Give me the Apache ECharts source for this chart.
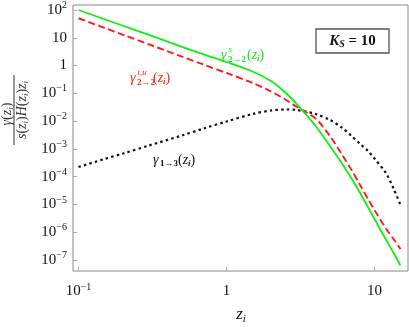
<!DOCTYPE html>
<html>
<head>
<meta charset="utf-8">
<title>rates</title>
<script src="https://cdn.jsdelivr.net/npm/echarts@6/dist/echarts.min.js"></script>
</head>
<body style="margin:0">
<div id="main" style="width:409px;height:327px"></div>
<script type="text/javascript">
// z_i sample points and the three rate curves
var zVals = [0.1, 0.15, 0.2, 0.3, 0.5, 0.7, 1, 1.5, 2, 2.5, 3, 4, 5, 6, 7, 8, 9, 10, 12, 13.5, 15];
var gammaS22 = [100, 46.3, 27.0, 12.6, 4.73, 2.54, 1.34, 0.611, 0.278, 0.1072, 0.0397, 6.67e-3, 1.272e-3, 3.11e-4, 8.6e-5, 2.58e-5, 8.38e-6, 3.00e-6, 5.26e-7, 1.76e-7, 6.35e-8];
var gammaTU22 = [50.3, 22.5, 12.8, 5.73, 2.10, 1.083, 0.540, 0.236, 0.1164, 0.060, 0.0322, 0.0124, 2.91e-3, 6.55e-4, 1.74e-4, 5.0e-5, 1.64e-5, 6.32e-6, 1.31e-6, 5.57e-7, 2.49e-7];
var gamma13 = [2.23e-4, 4.33e-4, 6.83e-4, 1.33e-3, 3.04e-3, 5.42e-3, 9.69e-3, 0.0180, 0.0241, 0.0262, 0.0251, 0.0180, 0.0110, 5.89e-3, 2.91e-3, 1.50e-3, 8.61e-4, 4.51e-4, 1.30e-4, 3.60e-5, 9.56e-6];

var SERIF = 'Liberation Serif';

function pairs(ys) {
    var out = [];
    for (var i = 0; i < zVals.length; i++) out.push([zVals[i], ys[i]]);
    return out;
}

// 10^n style tick labels
function logLabel(v) {
    var n = Math.log10(v), r = Math.round(n);
    if (Math.abs(n - r) > 1e-6) return '';
    if (r === 0) return '{b|1}';
    if (r === 1) return '{b|10}';
    return '{b|10}{s|' + (r < 0 ? '\u2212' : '') + Math.abs(r) + '}';
}
var tickRich = {
    b: {fontFamily: SERIF, fontSize: 15, color: '#111', lineHeight: 19},
    s: {fontFamily: SERIF, fontSize: 10, color: '#111', lineHeight: 10, padding: [0, 0, 9, 0]}
};

function txt(x, y, text, size, fill, extra) {
    var st = {text: text, fontFamily: SERIF, fontSize: size, fill: fill, align: 'left', verticalAlign: 'middle'};
    for (var k in extra || {}) st[k] = extra[k];
    return {type: 'text', x: x, y: y, silent: true, style: st};
}
// "(z_i)"
function zArg(x, y, fill) {
    return txt(x, y, '{p|(}{z|z}{i|i}{p|)}', 14, fill, {rich: {
        p: {fontFamily: SERIF, fontSize: 14, fill: fill},
        z: {fontFamily: SERIF, fontSize: 14, fontStyle: 'italic', fill: fill},
        i: {fontFamily: SERIF, fontSize: 9, fontStyle: 'italic', fontWeight: 'bold', fill: fill, padding: [7, 0, 0, 0]}
    }});
}
function gLabel(x, y, fill, sup, sub, subW) {
    var items = [txt(x, y, '\u03b3', 14, fill, {fontStyle: 'italic'})];
    if (sup) items.push(txt(x + 7.5, y - 6, sup, 9, fill, {fontStyle: 'italic'}));
    items.push(txt(x + 7, y + 4, sub, 9, fill, {fontWeight: 'bold'}));
    items.push(zArg(x + 7 + subW, y, fill));
    return items;
}

var ttlRich = {
    p: {fontFamily: SERIF, fontSize: 14, fill: '#333'},
    z: {fontFamily: SERIF, fontSize: 14, fontStyle: 'italic', fill: '#333'},
    i: {fontFamily: SERIF, fontSize: 9, fontStyle: 'italic', fill: '#333', padding: [7, 0, 0, 0]}
};

var graphics = [].concat(
    gLabel(221, 55.5, '#22dd22', 's', '2\u21922', 19),
    gLabel(130, 78.5, '#ff2020', 't,u', '2\u21922', 16),
    gLabel(153, 160, '#111', null, '1\u21923', 18),
    [
        {type: 'rect', shape: {x: 316, y: 29, width: 73, height: 24}, style: {fill: '#fff', stroke: '#555', lineWidth: 1.3}},
        txt(352.5, 41, '{k|K}{s|S}{e| = 10}', 15, '#111', {align: 'center', rich: {
            k: {fontFamily: SERIF, fontSize: 15, fontStyle: 'italic', fontWeight: 'bold', fill: '#111'},
            s: {fontFamily: SERIF, fontSize: 10, fontStyle: 'italic', fontWeight: 'bold', fill: '#111', padding: [7, 0, 0, 0]},
            e: {fontFamily: SERIF, fontSize: 15, fontWeight: 'bold', fill: '#111'}
        }}),
        txt(241, 315, '{z|z}{i|i}', 17, '#111', {align: 'center', rich: {
            z: {fontFamily: SERIF, fontSize: 17, fontStyle: 'italic', fill: '#111'},
            i: {fontFamily: SERIF, fontSize: 11, fontStyle: 'italic', fill: '#111', padding: [8, 0, 0, 0]}
        }}),
        {type: 'group', x: 14, y: 110, rotation: Math.PI / 2, silent: true, children: [
            {type: 'line', shape: {x1: -35, y1: 0, x2: 35, y2: 0}, style: {stroke: '#333', lineWidth: 1}},
            {type: 'text', x: -4, y: -7, style: {text: '{z|\u03b3}{p|(}{z|z}{i|i}{p|)}', rich: ttlRich, align: 'center', verticalAlign: 'middle'}},
            {type: 'text', x: 0, y: 8.5, style: {text: '{z|s}{p|(}{z|z}{i|i}{p|)}{z|H}{p|(}{z|z}{i|i}{p|)}{z|z}{i|i}', rich: ttlRich, align: 'center', verticalAlign: 'middle'}}
        ]}
    ]
);

var myChart = echarts.init(document.getElementById('main'));
var option = {
    animation: false,
    grid: {left: 73, right: 1, top: 5, bottom: 56, show: true, borderColor: '#888', borderWidth: 1},
    xAxis: {
        type: 'log', logBase: 10, min: 0.0918, max: 16.85,
        axisLine: {show: false},
        axisTick: {inside: true, length: 4, lineStyle: {color: '#aaa'}},
        splitLine: {show: false},
        axisLabel: {formatter: logLabel, rich: tickRich, margin: 11, showMinLabel: false, showMaxLabel: false}
    },
    yAxis: {
        type: 'log', logBase: 10, min: 4.03e-8, max: 151, splitNumber: 10,
        axisLine: {show: false},
        axisTick: {inside: true, length: 4, lineStyle: {color: '#aaa'}},
        splitLine: {show: false},
        axisLabel: {formatter: logLabel, rich: tickRich, margin: 6, showMinLabel: false, showMaxLabel: false}
    },
    series: [
        {name: 'gamma13', type: 'line', data: pairs(gamma13), showSymbol: false, smooth: 0.3,
         lineStyle: {color: '#111', width: 2.2, type: [2.5, 3.2]}},
        {name: 'gammaTU22', type: 'line', data: pairs(gammaTU22), showSymbol: false, smooth: 0.3,
         lineStyle: {color: '#ff1a1a', width: 1.9, type: [7, 3.5]}},
        {name: 'gammaS22', type: 'line', data: pairs(gammaS22), showSymbol: false, smooth: 0.3,
         lineStyle: {color: '#11ee11', width: 1.8}}
    ],
    graphic: graphics
};
myChart.setOption(option);
</script>
</body>
</html>
